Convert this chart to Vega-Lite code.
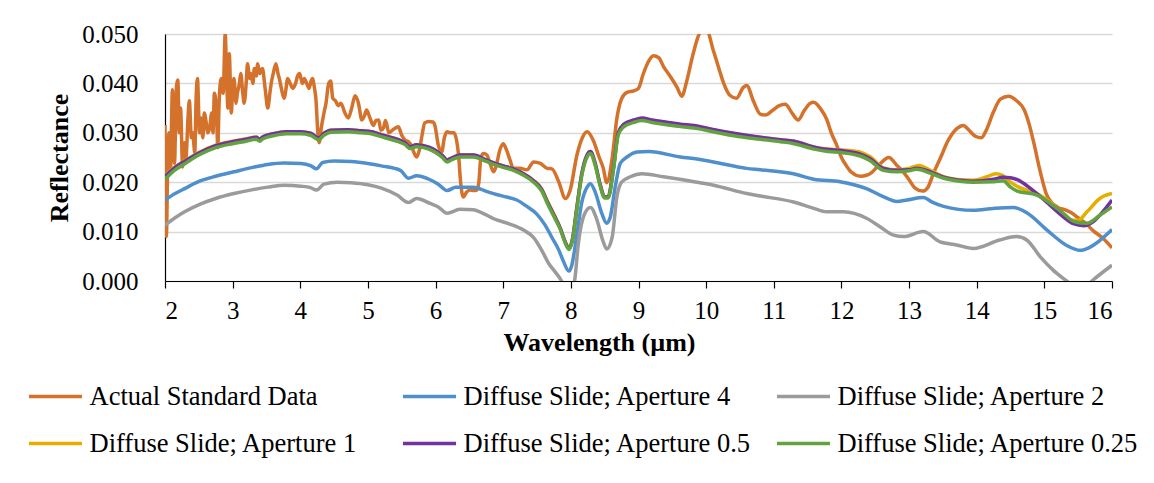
{
"$schema": "https://vega.github.io/schema/vega-lite/v6.json",
"width": 947, "height": 247,
"autosize": {"type": "none"},
"padding": {"left": 165, "top": 34, "right": 42, "bottom": 202},
"background": "white",
"config": {"font": "Liberation Serif", "view": {"stroke": null}},
"data": {"values": [
{"s":"Actual Standard Data","x":2.00,"y":0.0316},{"s":"Actual Standard Data","x":2.02,"y":0.0090},{"s":"Actual Standard Data","x":2.04,"y":0.0240},{"s":"Actual Standard Data","x":2.06,"y":0.0300},{"s":"Actual Standard Data","x":2.08,"y":0.0220},{"s":"Actual Standard Data","x":2.11,"y":0.0387},{"s":"Actual Standard Data","x":2.14,"y":0.0238},{"s":"Actual Standard Data","x":2.17,"y":0.0395},{"s":"Actual Standard Data","x":2.19,"y":0.0407},{"s":"Actual Standard Data","x":2.21,"y":0.0300},{"s":"Actual Standard Data","x":2.23,"y":0.0350},{"s":"Actual Standard Data","x":2.26,"y":0.0231},{"s":"Actual Standard Data","x":2.29,"y":0.0280},{"s":"Actual Standard Data","x":2.31,"y":0.0250},{"s":"Actual Standard Data","x":2.34,"y":0.0330},{"s":"Actual Standard Data","x":2.36,"y":0.0365},{"s":"Actual Standard Data","x":2.39,"y":0.0290},{"s":"Actual Standard Data","x":2.41,"y":0.0300},{"s":"Actual Standard Data","x":2.44,"y":0.0260},{"s":"Actual Standard Data","x":2.46,"y":0.0370},{"s":"Actual Standard Data","x":2.48,"y":0.0410},{"s":"Actual Standard Data","x":2.51,"y":0.0300},{"s":"Actual Standard Data","x":2.53,"y":0.0330},{"s":"Actual Standard Data","x":2.56,"y":0.0290},{"s":"Actual Standard Data","x":2.58,"y":0.0340},{"s":"Actual Standard Data","x":2.61,"y":0.0320},{"s":"Actual Standard Data","x":2.63,"y":0.0300},{"s":"Actual Standard Data","x":2.66,"y":0.0310},{"s":"Actual Standard Data","x":2.69,"y":0.0340},{"s":"Actual Standard Data","x":2.71,"y":0.0300},{"s":"Actual Standard Data","x":2.73,"y":0.0380},{"s":"Actual Standard Data","x":2.76,"y":0.0350},{"s":"Actual Standard Data","x":2.78,"y":0.0270},{"s":"Actual Standard Data","x":2.80,"y":0.0360},{"s":"Actual Standard Data","x":2.83,"y":0.0410},{"s":"Actual Standard Data","x":2.86,"y":0.0380},{"s":"Actual Standard Data","x":2.89,"y":0.0500},{"s":"Actual Standard Data","x":2.91,"y":0.0420},{"s":"Actual Standard Data","x":2.93,"y":0.0350},{"s":"Actual Standard Data","x":2.95,"y":0.0460},{"s":"Actual Standard Data","x":2.98,"y":0.0340},{"s":"Actual Standard Data","x":3.00,"y":0.0390},{"s":"Actual Standard Data","x":3.02,"y":0.0410},{"s":"Actual Standard Data","x":3.05,"y":0.0360},{"s":"Actual Standard Data","x":3.07,"y":0.0380},{"s":"Actual Standard Data","x":3.10,"y":0.0400},{"s":"Actual Standard Data","x":3.12,"y":0.0420},{"s":"Actual Standard Data","x":3.15,"y":0.0380},{"s":"Actual Standard Data","x":3.17,"y":0.0360},{"s":"Actual Standard Data","x":3.20,"y":0.0400},{"s":"Actual Standard Data","x":3.22,"y":0.0440},{"s":"Actual Standard Data","x":3.25,"y":0.0410},{"s":"Actual Standard Data","x":3.27,"y":0.0420},{"s":"Actual Standard Data","x":3.30,"y":0.0400},{"s":"Actual Standard Data","x":3.32,"y":0.0430},{"s":"Actual Standard Data","x":3.35,"y":0.0415},{"s":"Actual Standard Data","x":3.37,"y":0.0440},{"s":"Actual Standard Data","x":3.40,"y":0.0420},{"s":"Actual Standard Data","x":3.44,"y":0.0430},{"s":"Actual Standard Data","x":3.48,"y":0.0390},{"s":"Actual Standard Data","x":3.52,"y":0.0350},{"s":"Actual Standard Data","x":3.55,"y":0.0380},{"s":"Actual Standard Data","x":3.57,"y":0.0400},{"s":"Actual Standard Data","x":3.60,"y":0.0420},{"s":"Actual Standard Data","x":3.64,"y":0.0440},{"s":"Actual Standard Data","x":3.67,"y":0.0420},{"s":"Actual Standard Data","x":3.69,"y":0.0410},{"s":"Actual Standard Data","x":3.72,"y":0.0390},{"s":"Actual Standard Data","x":3.76,"y":0.0370},{"s":"Actual Standard Data","x":3.79,"y":0.0390},{"s":"Actual Standard Data","x":3.81,"y":0.0410},{"s":"Actual Standard Data","x":3.85,"y":0.0400},{"s":"Actual Standard Data","x":3.89,"y":0.0390},{"s":"Actual Standard Data","x":3.93,"y":0.0400},{"s":"Actual Standard Data","x":3.96,"y":0.0415},{"s":"Actual Standard Data","x":3.99,"y":0.0420},{"s":"Actual Standard Data","x":4.03,"y":0.0400},{"s":"Actual Standard Data","x":4.06,"y":0.0410},{"s":"Actual Standard Data","x":4.08,"y":0.0405},{"s":"Actual Standard Data","x":4.11,"y":0.0395},{"s":"Actual Standard Data","x":4.13,"y":0.0390},{"s":"Actual Standard Data","x":4.16,"y":0.0405},{"s":"Actual Standard Data","x":4.18,"y":0.0410},{"s":"Actual Standard Data","x":4.21,"y":0.0390},{"s":"Actual Standard Data","x":4.23,"y":0.0370},{"s":"Actual Standard Data","x":4.26,"y":0.0300},{"s":"Actual Standard Data","x":4.28,"y":0.0280},{"s":"Actual Standard Data","x":4.31,"y":0.0310},{"s":"Actual Standard Data","x":4.35,"y":0.0340},{"s":"Actual Standard Data","x":4.38,"y":0.0360},{"s":"Actual Standard Data","x":4.42,"y":0.0400},{"s":"Actual Standard Data","x":4.45,"y":0.0405},{"s":"Actual Standard Data","x":4.48,"y":0.0370},{"s":"Actual Standard Data","x":4.52,"y":0.0365},{"s":"Actual Standard Data","x":4.56,"y":0.0355},{"s":"Actual Standard Data","x":4.60,"y":0.0360},{"s":"Actual Standard Data","x":4.66,"y":0.0340},{"s":"Actual Standard Data","x":4.71,"y":0.0330},{"s":"Actual Standard Data","x":4.76,"y":0.0350},{"s":"Actual Standard Data","x":4.81,"y":0.0375},{"s":"Actual Standard Data","x":4.86,"y":0.0360},{"s":"Actual Standard Data","x":4.91,"y":0.0326},{"s":"Actual Standard Data","x":4.95,"y":0.0335},{"s":"Actual Standard Data","x":4.98,"y":0.0346},{"s":"Actual Standard Data","x":5.03,"y":0.0330},{"s":"Actual Standard Data","x":5.08,"y":0.0315},{"s":"Actual Standard Data","x":5.12,"y":0.0325},{"s":"Actual Standard Data","x":5.16,"y":0.0326},{"s":"Actual Standard Data","x":5.19,"y":0.0305},{"s":"Actual Standard Data","x":5.23,"y":0.0310},{"s":"Actual Standard Data","x":5.26,"y":0.0325},{"s":"Actual Standard Data","x":5.31,"y":0.0300},{"s":"Actual Standard Data","x":5.36,"y":0.0305},{"s":"Actual Standard Data","x":5.41,"y":0.0310},{"s":"Actual Standard Data","x":5.45,"y":0.0312},{"s":"Actual Standard Data","x":5.50,"y":0.0295},{"s":"Actual Standard Data","x":5.55,"y":0.0285},{"s":"Actual Standard Data","x":5.60,"y":0.0282},{"s":"Actual Standard Data","x":5.64,"y":0.0275},{"s":"Actual Standard Data","x":5.68,"y":0.0260},{"s":"Actual Standard Data","x":5.72,"y":0.0251},{"s":"Actual Standard Data","x":5.76,"y":0.0265},{"s":"Actual Standard Data","x":5.80,"y":0.0295},{"s":"Actual Standard Data","x":5.84,"y":0.0320},{"s":"Actual Standard Data","x":5.90,"y":0.0323},{"s":"Actual Standard Data","x":5.96,"y":0.0322},{"s":"Actual Standard Data","x":5.99,"y":0.0315},{"s":"Actual Standard Data","x":6.04,"y":0.0275},{"s":"Actual Standard Data","x":6.09,"y":0.0261},{"s":"Actual Standard Data","x":6.13,"y":0.0290},{"s":"Actual Standard Data","x":6.17,"y":0.0302},{"s":"Actual Standard Data","x":6.22,"y":0.0300},{"s":"Actual Standard Data","x":6.27,"y":0.0300},{"s":"Actual Standard Data","x":6.31,"y":0.0285},{"s":"Actual Standard Data","x":6.34,"y":0.0255},{"s":"Actual Standard Data","x":6.37,"y":0.0200},{"s":"Actual Standard Data","x":6.41,"y":0.0170},{"s":"Actual Standard Data","x":6.46,"y":0.0180},{"s":"Actual Standard Data","x":6.51,"y":0.0184},{"s":"Actual Standard Data","x":6.56,"y":0.0183},{"s":"Actual Standard Data","x":6.61,"y":0.0184},{"s":"Actual Standard Data","x":6.64,"y":0.0200},{"s":"Actual Standard Data","x":6.67,"y":0.0250},{"s":"Actual Standard Data","x":6.71,"y":0.0258},{"s":"Actual Standard Data","x":6.76,"y":0.0255},{"s":"Actual Standard Data","x":6.80,"y":0.0240},{"s":"Actual Standard Data","x":6.86,"y":0.0221},{"s":"Actual Standard Data","x":6.90,"y":0.0235},{"s":"Actual Standard Data","x":6.95,"y":0.0265},{"s":"Actual Standard Data","x":7.00,"y":0.0278},{"s":"Actual Standard Data","x":7.05,"y":0.0265},{"s":"Actual Standard Data","x":7.10,"y":0.0245},{"s":"Actual Standard Data","x":7.15,"y":0.0228},{"s":"Actual Standard Data","x":7.25,"y":0.0228},{"s":"Actual Standard Data","x":7.35,"y":0.0225},{"s":"Actual Standard Data","x":7.45,"y":0.0241},{"s":"Actual Standard Data","x":7.55,"y":0.0238},{"s":"Actual Standard Data","x":7.65,"y":0.0228},{"s":"Actual Standard Data","x":7.72,"y":0.0227},{"s":"Actual Standard Data","x":7.82,"y":0.0201},{"s":"Actual Standard Data","x":7.92,"y":0.0167},{"s":"Actual Standard Data","x":7.99,"y":0.0184},{"s":"Actual Standard Data","x":8.09,"y":0.0255},{"s":"Actual Standard Data","x":8.17,"y":0.0290},{"s":"Actual Standard Data","x":8.24,"y":0.0302},{"s":"Actual Standard Data","x":8.33,"y":0.0285},{"s":"Actual Standard Data","x":8.42,"y":0.0250},{"s":"Actual Standard Data","x":8.48,"y":0.0228},{"s":"Actual Standard Data","x":8.53,"y":0.0199},{"s":"Actual Standard Data","x":8.61,"y":0.0248},{"s":"Actual Standard Data","x":8.68,"y":0.0329},{"s":"Actual Standard Data","x":8.75,"y":0.0369},{"s":"Actual Standard Data","x":8.83,"y":0.0382},{"s":"Actual Standard Data","x":8.93,"y":0.0385},{"s":"Actual Standard Data","x":9.00,"y":0.0390},{"s":"Actual Standard Data","x":9.07,"y":0.0419},{"s":"Actual Standard Data","x":9.15,"y":0.0445},{"s":"Actual Standard Data","x":9.22,"y":0.0456},{"s":"Actual Standard Data","x":9.30,"y":0.0452},{"s":"Actual Standard Data","x":9.37,"y":0.0434},{"s":"Actual Standard Data","x":9.47,"y":0.0414},{"s":"Actual Standard Data","x":9.57,"y":0.0392},{"s":"Actual Standard Data","x":9.64,"y":0.0374},{"s":"Actual Standard Data","x":9.71,"y":0.0403},{"s":"Actual Standard Data","x":9.81,"y":0.0461},{"s":"Actual Standard Data","x":9.91,"y":0.0503},{"s":"Actual Standard Data","x":10.00,"y":0.0510},{"s":"Actual Standard Data","x":10.11,"y":0.0465},{"s":"Actual Standard Data","x":10.20,"y":0.0425},{"s":"Actual Standard Data","x":10.26,"y":0.0400},{"s":"Actual Standard Data","x":10.35,"y":0.0376},{"s":"Actual Standard Data","x":10.45,"y":0.0370},{"s":"Actual Standard Data","x":10.55,"y":0.0392},{"s":"Actual Standard Data","x":10.60,"y":0.0396},{"s":"Actual Standard Data","x":10.70,"y":0.0364},{"s":"Actual Standard Data","x":10.80,"y":0.0338},{"s":"Actual Standard Data","x":10.88,"y":0.0336},{"s":"Actual Standard Data","x":10.97,"y":0.0344},{"s":"Actual Standard Data","x":11.08,"y":0.0355},{"s":"Actual Standard Data","x":11.17,"y":0.0358},{"s":"Actual Standard Data","x":11.27,"y":0.0340},{"s":"Actual Standard Data","x":11.36,"y":0.0326},{"s":"Actual Standard Data","x":11.45,"y":0.0345},{"s":"Actual Standard Data","x":11.54,"y":0.0360},{"s":"Actual Standard Data","x":11.59,"y":0.0362},{"s":"Actual Standard Data","x":11.69,"y":0.0349},{"s":"Actual Standard Data","x":11.78,"y":0.0328},{"s":"Actual Standard Data","x":11.85,"y":0.0300},{"s":"Actual Standard Data","x":11.93,"y":0.0275},{"s":"Actual Standard Data","x":12.00,"y":0.0250},{"s":"Actual Standard Data","x":12.08,"y":0.0232},{"s":"Actual Standard Data","x":12.15,"y":0.0220},{"s":"Actual Standard Data","x":12.28,"y":0.0212},{"s":"Actual Standard Data","x":12.37,"y":0.0214},{"s":"Actual Standard Data","x":12.45,"y":0.0220},{"s":"Actual Standard Data","x":12.55,"y":0.0234},{"s":"Actual Standard Data","x":12.70,"y":0.0250},{"s":"Actual Standard Data","x":12.82,"y":0.0234},{"s":"Actual Standard Data","x":12.92,"y":0.0220},{"s":"Actual Standard Data","x":13.00,"y":0.0205},{"s":"Actual Standard Data","x":13.09,"y":0.0188},{"s":"Actual Standard Data","x":13.20,"y":0.0182},{"s":"Actual Standard Data","x":13.28,"y":0.0190},{"s":"Actual Standard Data","x":13.36,"y":0.0218},{"s":"Actual Standard Data","x":13.46,"y":0.0248},{"s":"Actual Standard Data","x":13.58,"y":0.0285},{"s":"Actual Standard Data","x":13.71,"y":0.0309},{"s":"Actual Standard Data","x":13.80,"y":0.0315},{"s":"Actual Standard Data","x":13.90,"y":0.0303},{"s":"Actual Standard Data","x":13.98,"y":0.0293},{"s":"Actual Standard Data","x":14.07,"y":0.0290},{"s":"Actual Standard Data","x":14.14,"y":0.0305},{"s":"Actual Standard Data","x":14.25,"y":0.0343},{"s":"Actual Standard Data","x":14.35,"y":0.0368},{"s":"Actual Standard Data","x":14.47,"y":0.0374},{"s":"Actual Standard Data","x":14.59,"y":0.0365},{"s":"Actual Standard Data","x":14.70,"y":0.0347},{"s":"Actual Standard Data","x":14.78,"y":0.0315},{"s":"Actual Standard Data","x":14.84,"y":0.0282},{"s":"Actual Standard Data","x":14.94,"y":0.0221},{"s":"Actual Standard Data","x":15.03,"y":0.0176},{"s":"Actual Standard Data","x":15.10,"y":0.0160},{"s":"Actual Standard Data","x":15.20,"y":0.0149},{"s":"Actual Standard Data","x":15.31,"y":0.0144},{"s":"Actual Standard Data","x":15.40,"y":0.0138},{"s":"Actual Standard Data","x":15.50,"y":0.0128},{"s":"Actual Standard Data","x":15.60,"y":0.0118},{"s":"Actual Standard Data","x":15.72,"y":0.0102},{"s":"Actual Standard Data","x":15.87,"y":0.0086},{"s":"Actual Standard Data","x":16.00,"y":0.0067},
{"s":"Diffuse Slide; Aperture 4","x":2.00,"y":0.0164},{"s":"Diffuse Slide; Aperture 4","x":2.15,"y":0.0177},{"s":"Diffuse Slide; Aperture 4","x":2.29,"y":0.0187},{"s":"Diffuse Slide; Aperture 4","x":2.53,"y":0.0203},{"s":"Diffuse Slide; Aperture 4","x":2.75,"y":0.0212},{"s":"Diffuse Slide; Aperture 4","x":3.02,"y":0.0221},{"s":"Diffuse Slide; Aperture 4","x":3.30,"y":0.0230},{"s":"Diffuse Slide; Aperture 4","x":3.52,"y":0.0236},{"s":"Diffuse Slide; Aperture 4","x":3.76,"y":0.0239},{"s":"Diffuse Slide; Aperture 4","x":4.01,"y":0.0238},{"s":"Diffuse Slide; Aperture 4","x":4.16,"y":0.0233},{"s":"Diffuse Slide; Aperture 4","x":4.24,"y":0.0227},{"s":"Diffuse Slide; Aperture 4","x":4.33,"y":0.0240},{"s":"Diffuse Slide; Aperture 4","x":4.50,"y":0.0243},{"s":"Diffuse Slide; Aperture 4","x":4.75,"y":0.0242},{"s":"Diffuse Slide; Aperture 4","x":5.00,"y":0.0238},{"s":"Diffuse Slide; Aperture 4","x":5.20,"y":0.0233},{"s":"Diffuse Slide; Aperture 4","x":5.48,"y":0.0224},{"s":"Diffuse Slide; Aperture 4","x":5.60,"y":0.0208},{"s":"Diffuse Slide; Aperture 4","x":5.72,"y":0.0213},{"s":"Diffuse Slide; Aperture 4","x":5.92,"y":0.0205},{"s":"Diffuse Slide; Aperture 4","x":6.04,"y":0.0196},{"s":"Diffuse Slide; Aperture 4","x":6.17,"y":0.0183},{"s":"Diffuse Slide; Aperture 4","x":6.30,"y":0.0190},{"s":"Diffuse Slide; Aperture 4","x":6.56,"y":0.0190},{"s":"Diffuse Slide; Aperture 4","x":6.76,"y":0.0181},{"s":"Diffuse Slide; Aperture 4","x":6.90,"y":0.0175},{"s":"Diffuse Slide; Aperture 4","x":7.05,"y":0.0170},{"s":"Diffuse Slide; Aperture 4","x":7.20,"y":0.0164},{"s":"Diffuse Slide; Aperture 4","x":7.35,"y":0.0151},{"s":"Diffuse Slide; Aperture 4","x":7.50,"y":0.0135},{"s":"Diffuse Slide; Aperture 4","x":7.62,"y":0.0113},{"s":"Diffuse Slide; Aperture 4","x":7.72,"y":0.0088},{"s":"Diffuse Slide; Aperture 4","x":7.82,"y":0.0063},{"s":"Diffuse Slide; Aperture 4","x":7.89,"y":0.0040},{"s":"Diffuse Slide; Aperture 4","x":7.97,"y":0.0020},{"s":"Diffuse Slide; Aperture 4","x":8.01,"y":0.0030},{"s":"Diffuse Slide; Aperture 4","x":8.09,"y":0.0095},{"s":"Diffuse Slide; Aperture 4","x":8.16,"y":0.0158},{"s":"Diffuse Slide; Aperture 4","x":8.24,"y":0.0190},{"s":"Diffuse Slide; Aperture 4","x":8.29,"y":0.0197},{"s":"Diffuse Slide; Aperture 4","x":8.36,"y":0.0180},{"s":"Diffuse Slide; Aperture 4","x":8.46,"y":0.0136},{"s":"Diffuse Slide; Aperture 4","x":8.53,"y":0.0117},{"s":"Diffuse Slide; Aperture 4","x":8.58,"y":0.0128},{"s":"Diffuse Slide; Aperture 4","x":8.66,"y":0.0194},{"s":"Diffuse Slide; Aperture 4","x":8.73,"y":0.0238},{"s":"Diffuse Slide; Aperture 4","x":8.83,"y":0.0251},{"s":"Diffuse Slide; Aperture 4","x":8.98,"y":0.0261},{"s":"Diffuse Slide; Aperture 4","x":9.15,"y":0.0262},{"s":"Diffuse Slide; Aperture 4","x":9.62,"y":0.0251},{"s":"Diffuse Slide; Aperture 4","x":9.91,"y":0.0246},{"s":"Diffuse Slide; Aperture 4","x":10.11,"y":0.0241},{"s":"Diffuse Slide; Aperture 4","x":10.60,"y":0.0228},{"s":"Diffuse Slide; Aperture 4","x":10.80,"y":0.0225},{"s":"Diffuse Slide; Aperture 4","x":11.29,"y":0.0217},{"s":"Diffuse Slide; Aperture 4","x":11.59,"y":0.0206},{"s":"Diffuse Slide; Aperture 4","x":11.98,"y":0.0201},{"s":"Diffuse Slide; Aperture 4","x":12.37,"y":0.0187},{"s":"Diffuse Slide; Aperture 4","x":12.60,"y":0.0172},{"s":"Diffuse Slide; Aperture 4","x":12.82,"y":0.0161},{"s":"Diffuse Slide; Aperture 4","x":12.97,"y":0.0164},{"s":"Diffuse Slide; Aperture 4","x":13.21,"y":0.0169},{"s":"Diffuse Slide; Aperture 4","x":13.35,"y":0.0159},{"s":"Diffuse Slide; Aperture 4","x":13.51,"y":0.0151},{"s":"Diffuse Slide; Aperture 4","x":13.95,"y":0.0143},{"s":"Diffuse Slide; Aperture 4","x":14.25,"y":0.0147},{"s":"Diffuse Slide; Aperture 4","x":14.54,"y":0.0149},{"s":"Diffuse Slide; Aperture 4","x":14.74,"y":0.0138},{"s":"Diffuse Slide; Aperture 4","x":15.04,"y":0.0103},{"s":"Diffuse Slide; Aperture 4","x":15.33,"y":0.0072},{"s":"Diffuse Slide; Aperture 4","x":15.53,"y":0.0062},{"s":"Diffuse Slide; Aperture 4","x":15.67,"y":0.0068},{"s":"Diffuse Slide; Aperture 4","x":16.00,"y":0.0104},
{"s":"Diffuse Slide; Aperture 2","x":2.00,"y":0.0113},{"s":"Diffuse Slide; Aperture 2","x":2.15,"y":0.0128},{"s":"Diffuse Slide; Aperture 2","x":2.29,"y":0.0140},{"s":"Diffuse Slide; Aperture 2","x":2.53,"y":0.0156},{"s":"Diffuse Slide; Aperture 2","x":2.75,"y":0.0167},{"s":"Diffuse Slide; Aperture 2","x":3.02,"y":0.0177},{"s":"Diffuse Slide; Aperture 2","x":3.30,"y":0.0185},{"s":"Diffuse Slide; Aperture 2","x":3.52,"y":0.0190},{"s":"Diffuse Slide; Aperture 2","x":3.76,"y":0.0194},{"s":"Diffuse Slide; Aperture 2","x":4.01,"y":0.0192},{"s":"Diffuse Slide; Aperture 2","x":4.15,"y":0.0189},{"s":"Diffuse Slide; Aperture 2","x":4.24,"y":0.0184},{"s":"Diffuse Slide; Aperture 2","x":4.35,"y":0.0196},{"s":"Diffuse Slide; Aperture 2","x":4.55,"y":0.0200},{"s":"Diffuse Slide; Aperture 2","x":4.75,"y":0.0199},{"s":"Diffuse Slide; Aperture 2","x":5.00,"y":0.0195},{"s":"Diffuse Slide; Aperture 2","x":5.20,"y":0.0188},{"s":"Diffuse Slide; Aperture 2","x":5.43,"y":0.0174},{"s":"Diffuse Slide; Aperture 2","x":5.60,"y":0.0159},{"s":"Diffuse Slide; Aperture 2","x":5.72,"y":0.0167},{"s":"Diffuse Slide; Aperture 2","x":5.92,"y":0.0157},{"s":"Diffuse Slide; Aperture 2","x":6.04,"y":0.0150},{"s":"Diffuse Slide; Aperture 2","x":6.17,"y":0.0137},{"s":"Diffuse Slide; Aperture 2","x":6.36,"y":0.0145},{"s":"Diffuse Slide; Aperture 2","x":6.56,"y":0.0144},{"s":"Diffuse Slide; Aperture 2","x":6.70,"y":0.0137},{"s":"Diffuse Slide; Aperture 2","x":6.86,"y":0.0126},{"s":"Diffuse Slide; Aperture 2","x":7.10,"y":0.0115},{"s":"Diffuse Slide; Aperture 2","x":7.30,"y":0.0103},{"s":"Diffuse Slide; Aperture 2","x":7.45,"y":0.0088},{"s":"Diffuse Slide; Aperture 2","x":7.57,"y":0.0062},{"s":"Diffuse Slide; Aperture 2","x":7.67,"y":0.0036},{"s":"Diffuse Slide; Aperture 2","x":7.77,"y":0.0018},{"s":"Diffuse Slide; Aperture 2","x":7.87,"y":-0.0002},{"s":"Diffuse Slide; Aperture 2","x":7.95,"y":-0.0030},{"s":"Diffuse Slide; Aperture 2","x":8.02,"y":-0.0020},{"s":"Diffuse Slide; Aperture 2","x":8.06,"y":0.0005},{"s":"Diffuse Slide; Aperture 2","x":8.11,"y":0.0075},{"s":"Diffuse Slide; Aperture 2","x":8.21,"y":0.0138},{"s":"Diffuse Slide; Aperture 2","x":8.29,"y":0.0149},{"s":"Diffuse Slide; Aperture 2","x":8.38,"y":0.0126},{"s":"Diffuse Slide; Aperture 2","x":8.48,"y":0.0079},{"s":"Diffuse Slide; Aperture 2","x":8.53,"y":0.0065},{"s":"Diffuse Slide; Aperture 2","x":8.61,"y":0.0088},{"s":"Diffuse Slide; Aperture 2","x":8.68,"y":0.0170},{"s":"Diffuse Slide; Aperture 2","x":8.75,"y":0.0200},{"s":"Diffuse Slide; Aperture 2","x":8.88,"y":0.0211},{"s":"Diffuse Slide; Aperture 2","x":9.05,"y":0.0217},{"s":"Diffuse Slide; Aperture 2","x":9.37,"y":0.0211},{"s":"Diffuse Slide; Aperture 2","x":9.91,"y":0.0199},{"s":"Diffuse Slide; Aperture 2","x":10.11,"y":0.0194},{"s":"Diffuse Slide; Aperture 2","x":10.60,"y":0.0177},{"s":"Diffuse Slide; Aperture 2","x":10.80,"y":0.0172},{"s":"Diffuse Slide; Aperture 2","x":11.29,"y":0.0160},{"s":"Diffuse Slide; Aperture 2","x":11.59,"y":0.0147},{"s":"Diffuse Slide; Aperture 2","x":11.78,"y":0.0140},{"s":"Diffuse Slide; Aperture 2","x":12.03,"y":0.0140},{"s":"Diffuse Slide; Aperture 2","x":12.37,"y":0.0127},{"s":"Diffuse Slide; Aperture 2","x":12.57,"y":0.0110},{"s":"Diffuse Slide; Aperture 2","x":12.77,"y":0.0093},{"s":"Diffuse Slide; Aperture 2","x":12.92,"y":0.0090},{"s":"Diffuse Slide; Aperture 2","x":13.21,"y":0.0100},{"s":"Diffuse Slide; Aperture 2","x":13.46,"y":0.0079},{"s":"Diffuse Slide; Aperture 2","x":13.70,"y":0.0073},{"s":"Diffuse Slide; Aperture 2","x":13.95,"y":0.0066},{"s":"Diffuse Slide; Aperture 2","x":14.34,"y":0.0083},{"s":"Diffuse Slide; Aperture 2","x":14.59,"y":0.0090},{"s":"Diffuse Slide; Aperture 2","x":14.74,"y":0.0083},{"s":"Diffuse Slide; Aperture 2","x":14.94,"y":0.0049},{"s":"Diffuse Slide; Aperture 2","x":15.13,"y":0.0022},{"s":"Diffuse Slide; Aperture 2","x":15.33,"y":0.0000},{"s":"Diffuse Slide; Aperture 2","x":15.50,"y":-0.0018},{"s":"Diffuse Slide; Aperture 2","x":15.62,"y":-0.0010},{"s":"Diffuse Slide; Aperture 2","x":15.72,"y":0.0002},{"s":"Diffuse Slide; Aperture 2","x":16.00,"y":0.0032},
{"s":"Diffuse Slide; Aperture 1","x":2.00,"y":0.0214},{"s":"Diffuse Slide; Aperture 1","x":2.15,"y":0.0231},{"s":"Diffuse Slide; Aperture 1","x":2.30,"y":0.0244},{"s":"Diffuse Slide; Aperture 1","x":2.50,"y":0.0260},{"s":"Diffuse Slide; Aperture 1","x":2.75,"y":0.0275},{"s":"Diffuse Slide; Aperture 1","x":3.00,"y":0.0283},{"s":"Diffuse Slide; Aperture 1","x":3.20,"y":0.0288},{"s":"Diffuse Slide; Aperture 1","x":3.35,"y":0.0291},{"s":"Diffuse Slide; Aperture 1","x":3.40,"y":0.0287},{"s":"Diffuse Slide; Aperture 1","x":3.45,"y":0.0292},{"s":"Diffuse Slide; Aperture 1","x":3.60,"y":0.0298},{"s":"Diffuse Slide; Aperture 1","x":3.80,"y":0.0302},{"s":"Diffuse Slide; Aperture 1","x":4.00,"y":0.0302},{"s":"Diffuse Slide; Aperture 1","x":4.15,"y":0.0299},{"s":"Diffuse Slide; Aperture 1","x":4.27,"y":0.0290},{"s":"Diffuse Slide; Aperture 1","x":4.35,"y":0.0299},{"s":"Diffuse Slide; Aperture 1","x":4.45,"y":0.0305},{"s":"Diffuse Slide; Aperture 1","x":4.70,"y":0.0306},{"s":"Diffuse Slide; Aperture 1","x":4.90,"y":0.0304},{"s":"Diffuse Slide; Aperture 1","x":5.05,"y":0.0302},{"s":"Diffuse Slide; Aperture 1","x":5.25,"y":0.0294},{"s":"Diffuse Slide; Aperture 1","x":5.45,"y":0.0286},{"s":"Diffuse Slide; Aperture 1","x":5.55,"y":0.0280},{"s":"Diffuse Slide; Aperture 1","x":5.62,"y":0.0272},{"s":"Diffuse Slide; Aperture 1","x":5.72,"y":0.0276},{"s":"Diffuse Slide; Aperture 1","x":5.90,"y":0.0271},{"s":"Diffuse Slide; Aperture 1","x":6.00,"y":0.0264},{"s":"Diffuse Slide; Aperture 1","x":6.10,"y":0.0254},{"s":"Diffuse Slide; Aperture 1","x":6.17,"y":0.0245},{"s":"Diffuse Slide; Aperture 1","x":6.25,"y":0.0250},{"s":"Diffuse Slide; Aperture 1","x":6.36,"y":0.0255},{"s":"Diffuse Slide; Aperture 1","x":6.56,"y":0.0255},{"s":"Diffuse Slide; Aperture 1","x":6.75,"y":0.0245},{"s":"Diffuse Slide; Aperture 1","x":6.86,"y":0.0239},{"s":"Diffuse Slide; Aperture 1","x":7.00,"y":0.0233},{"s":"Diffuse Slide; Aperture 1","x":7.15,"y":0.0227},{"s":"Diffuse Slide; Aperture 1","x":7.30,"y":0.0217},{"s":"Diffuse Slide; Aperture 1","x":7.45,"y":0.0203},{"s":"Diffuse Slide; Aperture 1","x":7.57,"y":0.0186},{"s":"Diffuse Slide; Aperture 1","x":7.65,"y":0.0163},{"s":"Diffuse Slide; Aperture 1","x":7.74,"y":0.0138},{"s":"Diffuse Slide; Aperture 1","x":7.84,"y":0.0108},{"s":"Diffuse Slide; Aperture 1","x":7.92,"y":0.0078},{"s":"Diffuse Slide; Aperture 1","x":7.97,"y":0.0066},{"s":"Diffuse Slide; Aperture 1","x":8.02,"y":0.0082},{"s":"Diffuse Slide; Aperture 1","x":8.09,"y":0.0150},{"s":"Diffuse Slide; Aperture 1","x":8.16,"y":0.0216},{"s":"Diffuse Slide; Aperture 1","x":8.24,"y":0.0255},{"s":"Diffuse Slide; Aperture 1","x":8.29,"y":0.0262},{"s":"Diffuse Slide; Aperture 1","x":8.36,"y":0.0238},{"s":"Diffuse Slide; Aperture 1","x":8.43,"y":0.0197},{"s":"Diffuse Slide; Aperture 1","x":8.50,"y":0.0170},{"s":"Diffuse Slide; Aperture 1","x":8.55,"y":0.0170},{"s":"Diffuse Slide; Aperture 1","x":8.63,"y":0.0229},{"s":"Diffuse Slide; Aperture 1","x":8.70,"y":0.0300},{"s":"Diffuse Slide; Aperture 1","x":8.78,"y":0.0316},{"s":"Diffuse Slide; Aperture 1","x":8.93,"y":0.0325},{"s":"Diffuse Slide; Aperture 1","x":9.05,"y":0.0329},{"s":"Diffuse Slide; Aperture 1","x":9.20,"y":0.0325},{"s":"Diffuse Slide; Aperture 1","x":9.60,"y":0.0317},{"s":"Diffuse Slide; Aperture 1","x":9.90,"y":0.0312},{"s":"Diffuse Slide; Aperture 1","x":10.10,"y":0.0306},{"s":"Diffuse Slide; Aperture 1","x":10.50,"y":0.0296},{"s":"Diffuse Slide; Aperture 1","x":10.80,"y":0.0291},{"s":"Diffuse Slide; Aperture 1","x":11.10,"y":0.0286},{"s":"Diffuse Slide; Aperture 1","x":11.30,"y":0.0283},{"s":"Diffuse Slide; Aperture 1","x":11.60,"y":0.0271},{"s":"Diffuse Slide; Aperture 1","x":11.80,"y":0.0267},{"s":"Diffuse Slide; Aperture 1","x":12.00,"y":0.0265},{"s":"Diffuse Slide; Aperture 1","x":12.18,"y":0.0263},{"s":"Diffuse Slide; Aperture 1","x":12.30,"y":0.0260},{"s":"Diffuse Slide; Aperture 1","x":12.42,"y":0.0252},{"s":"Diffuse Slide; Aperture 1","x":12.62,"y":0.0229},{"s":"Diffuse Slide; Aperture 1","x":12.82,"y":0.0225},{"s":"Diffuse Slide; Aperture 1","x":13.00,"y":0.0228},{"s":"Diffuse Slide; Aperture 1","x":13.15,"y":0.0234},{"s":"Diffuse Slide; Aperture 1","x":13.30,"y":0.0225},{"s":"Diffuse Slide; Aperture 1","x":13.51,"y":0.0211},{"s":"Diffuse Slide; Aperture 1","x":13.75,"y":0.0205},{"s":"Diffuse Slide; Aperture 1","x":13.95,"y":0.0204},{"s":"Diffuse Slide; Aperture 1","x":14.15,"y":0.0211},{"s":"Diffuse Slide; Aperture 1","x":14.28,"y":0.0217},{"s":"Diffuse Slide; Aperture 1","x":14.38,"y":0.0214},{"s":"Diffuse Slide; Aperture 1","x":14.50,"y":0.0200},{"s":"Diffuse Slide; Aperture 1","x":14.62,"y":0.0190},{"s":"Diffuse Slide; Aperture 1","x":14.89,"y":0.0177},{"s":"Diffuse Slide; Aperture 1","x":15.10,"y":0.0158},{"s":"Diffuse Slide; Aperture 1","x":15.38,"y":0.0123},{"s":"Diffuse Slide; Aperture 1","x":15.50,"y":0.0123},{"s":"Diffuse Slide; Aperture 1","x":15.63,"y":0.0140},{"s":"Diffuse Slide; Aperture 1","x":15.82,"y":0.0167},{"s":"Diffuse Slide; Aperture 1","x":16.00,"y":0.0177},
{"s":"Diffuse Slide; Aperture 0.5","x":2.00,"y":0.0212},{"s":"Diffuse Slide; Aperture 0.5","x":2.15,"y":0.0230},{"s":"Diffuse Slide; Aperture 0.5","x":2.30,"y":0.0243},{"s":"Diffuse Slide; Aperture 0.5","x":2.50,"y":0.0259},{"s":"Diffuse Slide; Aperture 0.5","x":2.75,"y":0.0274},{"s":"Diffuse Slide; Aperture 0.5","x":3.00,"y":0.0282},{"s":"Diffuse Slide; Aperture 0.5","x":3.20,"y":0.0287},{"s":"Diffuse Slide; Aperture 0.5","x":3.35,"y":0.0291},{"s":"Diffuse Slide; Aperture 0.5","x":3.40,"y":0.0287},{"s":"Diffuse Slide; Aperture 0.5","x":3.45,"y":0.0292},{"s":"Diffuse Slide; Aperture 0.5","x":3.60,"y":0.0298},{"s":"Diffuse Slide; Aperture 0.5","x":3.80,"y":0.0302},{"s":"Diffuse Slide; Aperture 0.5","x":4.00,"y":0.0302},{"s":"Diffuse Slide; Aperture 0.5","x":4.15,"y":0.0299},{"s":"Diffuse Slide; Aperture 0.5","x":4.27,"y":0.0290},{"s":"Diffuse Slide; Aperture 0.5","x":4.35,"y":0.0299},{"s":"Diffuse Slide; Aperture 0.5","x":4.45,"y":0.0305},{"s":"Diffuse Slide; Aperture 0.5","x":4.70,"y":0.0306},{"s":"Diffuse Slide; Aperture 0.5","x":4.90,"y":0.0304},{"s":"Diffuse Slide; Aperture 0.5","x":5.05,"y":0.0302},{"s":"Diffuse Slide; Aperture 0.5","x":5.25,"y":0.0294},{"s":"Diffuse Slide; Aperture 0.5","x":5.45,"y":0.0286},{"s":"Diffuse Slide; Aperture 0.5","x":5.55,"y":0.0280},{"s":"Diffuse Slide; Aperture 0.5","x":5.62,"y":0.0272},{"s":"Diffuse Slide; Aperture 0.5","x":5.72,"y":0.0276},{"s":"Diffuse Slide; Aperture 0.5","x":5.90,"y":0.0271},{"s":"Diffuse Slide; Aperture 0.5","x":6.00,"y":0.0264},{"s":"Diffuse Slide; Aperture 0.5","x":6.10,"y":0.0254},{"s":"Diffuse Slide; Aperture 0.5","x":6.17,"y":0.0245},{"s":"Diffuse Slide; Aperture 0.5","x":6.25,"y":0.0250},{"s":"Diffuse Slide; Aperture 0.5","x":6.36,"y":0.0255},{"s":"Diffuse Slide; Aperture 0.5","x":6.56,"y":0.0255},{"s":"Diffuse Slide; Aperture 0.5","x":6.75,"y":0.0245},{"s":"Diffuse Slide; Aperture 0.5","x":6.86,"y":0.0239},{"s":"Diffuse Slide; Aperture 0.5","x":7.00,"y":0.0233},{"s":"Diffuse Slide; Aperture 0.5","x":7.15,"y":0.0227},{"s":"Diffuse Slide; Aperture 0.5","x":7.30,"y":0.0217},{"s":"Diffuse Slide; Aperture 0.5","x":7.45,"y":0.0203},{"s":"Diffuse Slide; Aperture 0.5","x":7.57,"y":0.0185},{"s":"Diffuse Slide; Aperture 0.5","x":7.65,"y":0.0161},{"s":"Diffuse Slide; Aperture 0.5","x":7.74,"y":0.0136},{"s":"Diffuse Slide; Aperture 0.5","x":7.84,"y":0.0108},{"s":"Diffuse Slide; Aperture 0.5","x":7.92,"y":0.0078},{"s":"Diffuse Slide; Aperture 0.5","x":7.97,"y":0.0066},{"s":"Diffuse Slide; Aperture 0.5","x":8.02,"y":0.0082},{"s":"Diffuse Slide; Aperture 0.5","x":8.09,"y":0.0150},{"s":"Diffuse Slide; Aperture 0.5","x":8.16,"y":0.0216},{"s":"Diffuse Slide; Aperture 0.5","x":8.24,"y":0.0255},{"s":"Diffuse Slide; Aperture 0.5","x":8.29,"y":0.0262},{"s":"Diffuse Slide; Aperture 0.5","x":8.36,"y":0.0238},{"s":"Diffuse Slide; Aperture 0.5","x":8.43,"y":0.0197},{"s":"Diffuse Slide; Aperture 0.5","x":8.50,"y":0.0170},{"s":"Diffuse Slide; Aperture 0.5","x":8.55,"y":0.0170},{"s":"Diffuse Slide; Aperture 0.5","x":8.63,"y":0.0229},{"s":"Diffuse Slide; Aperture 0.5","x":8.70,"y":0.0300},{"s":"Diffuse Slide; Aperture 0.5","x":8.78,"y":0.0317},{"s":"Diffuse Slide; Aperture 0.5","x":8.93,"y":0.0326},{"s":"Diffuse Slide; Aperture 0.5","x":9.05,"y":0.0330},{"s":"Diffuse Slide; Aperture 0.5","x":9.20,"y":0.0326},{"s":"Diffuse Slide; Aperture 0.5","x":9.60,"y":0.0318},{"s":"Diffuse Slide; Aperture 0.5","x":9.90,"y":0.0313},{"s":"Diffuse Slide; Aperture 0.5","x":10.10,"y":0.0307},{"s":"Diffuse Slide; Aperture 0.5","x":10.50,"y":0.0297},{"s":"Diffuse Slide; Aperture 0.5","x":10.80,"y":0.0291},{"s":"Diffuse Slide; Aperture 0.5","x":11.10,"y":0.0286},{"s":"Diffuse Slide; Aperture 0.5","x":11.30,"y":0.0283},{"s":"Diffuse Slide; Aperture 0.5","x":11.60,"y":0.0271},{"s":"Diffuse Slide; Aperture 0.5","x":11.80,"y":0.0266},{"s":"Diffuse Slide; Aperture 0.5","x":12.00,"y":0.0264},{"s":"Diffuse Slide; Aperture 0.5","x":12.28,"y":0.0257},{"s":"Diffuse Slide; Aperture 0.5","x":12.42,"y":0.0248},{"s":"Diffuse Slide; Aperture 0.5","x":12.62,"y":0.0228},{"s":"Diffuse Slide; Aperture 0.5","x":12.82,"y":0.0224},{"s":"Diffuse Slide; Aperture 0.5","x":13.00,"y":0.0225},{"s":"Diffuse Slide; Aperture 0.5","x":13.11,"y":0.0228},{"s":"Diffuse Slide; Aperture 0.5","x":13.30,"y":0.0222},{"s":"Diffuse Slide; Aperture 0.5","x":13.51,"y":0.0210},{"s":"Diffuse Slide; Aperture 0.5","x":13.75,"y":0.0204},{"s":"Diffuse Slide; Aperture 0.5","x":13.95,"y":0.0202},{"s":"Diffuse Slide; Aperture 0.5","x":14.25,"y":0.0206},{"s":"Diffuse Slide; Aperture 0.5","x":14.39,"y":0.0210},{"s":"Diffuse Slide; Aperture 0.5","x":14.50,"y":0.0209},{"s":"Diffuse Slide; Aperture 0.5","x":14.60,"y":0.0205},{"s":"Diffuse Slide; Aperture 0.5","x":14.79,"y":0.0188},{"s":"Diffuse Slide; Aperture 0.5","x":15.03,"y":0.0160},{"s":"Diffuse Slide; Aperture 0.5","x":15.28,"y":0.0130},{"s":"Diffuse Slide; Aperture 0.5","x":15.43,"y":0.0116},{"s":"Diffuse Slide; Aperture 0.5","x":15.58,"y":0.0112},{"s":"Diffuse Slide; Aperture 0.5","x":15.72,"y":0.0120},{"s":"Diffuse Slide; Aperture 0.5","x":15.85,"y":0.0138},{"s":"Diffuse Slide; Aperture 0.5","x":16.00,"y":0.0164},
{"s":"Diffuse Slide; Aperture 0.25","x":2.00,"y":0.0206},{"s":"Diffuse Slide; Aperture 0.25","x":2.15,"y":0.0225},{"s":"Diffuse Slide; Aperture 0.25","x":2.30,"y":0.0238},{"s":"Diffuse Slide; Aperture 0.25","x":2.50,"y":0.0255},{"s":"Diffuse Slide; Aperture 0.25","x":2.75,"y":0.0270},{"s":"Diffuse Slide; Aperture 0.25","x":3.00,"y":0.0278},{"s":"Diffuse Slide; Aperture 0.25","x":3.20,"y":0.0283},{"s":"Diffuse Slide; Aperture 0.25","x":3.35,"y":0.0287},{"s":"Diffuse Slide; Aperture 0.25","x":3.40,"y":0.0283},{"s":"Diffuse Slide; Aperture 0.25","x":3.45,"y":0.0288},{"s":"Diffuse Slide; Aperture 0.25","x":3.60,"y":0.0294},{"s":"Diffuse Slide; Aperture 0.25","x":3.80,"y":0.0298},{"s":"Diffuse Slide; Aperture 0.25","x":4.00,"y":0.0298},{"s":"Diffuse Slide; Aperture 0.25","x":4.15,"y":0.0295},{"s":"Diffuse Slide; Aperture 0.25","x":4.27,"y":0.0286},{"s":"Diffuse Slide; Aperture 0.25","x":4.35,"y":0.0295},{"s":"Diffuse Slide; Aperture 0.25","x":4.45,"y":0.0301},{"s":"Diffuse Slide; Aperture 0.25","x":4.70,"y":0.0302},{"s":"Diffuse Slide; Aperture 0.25","x":4.90,"y":0.0300},{"s":"Diffuse Slide; Aperture 0.25","x":5.05,"y":0.0298},{"s":"Diffuse Slide; Aperture 0.25","x":5.25,"y":0.0290},{"s":"Diffuse Slide; Aperture 0.25","x":5.45,"y":0.0282},{"s":"Diffuse Slide; Aperture 0.25","x":5.55,"y":0.0276},{"s":"Diffuse Slide; Aperture 0.25","x":5.62,"y":0.0268},{"s":"Diffuse Slide; Aperture 0.25","x":5.72,"y":0.0272},{"s":"Diffuse Slide; Aperture 0.25","x":5.90,"y":0.0267},{"s":"Diffuse Slide; Aperture 0.25","x":6.00,"y":0.0260},{"s":"Diffuse Slide; Aperture 0.25","x":6.10,"y":0.0250},{"s":"Diffuse Slide; Aperture 0.25","x":6.17,"y":0.0241},{"s":"Diffuse Slide; Aperture 0.25","x":6.25,"y":0.0246},{"s":"Diffuse Slide; Aperture 0.25","x":6.36,"y":0.0251},{"s":"Diffuse Slide; Aperture 0.25","x":6.56,"y":0.0251},{"s":"Diffuse Slide; Aperture 0.25","x":6.75,"y":0.0242},{"s":"Diffuse Slide; Aperture 0.25","x":6.86,"y":0.0236},{"s":"Diffuse Slide; Aperture 0.25","x":7.00,"y":0.0230},{"s":"Diffuse Slide; Aperture 0.25","x":7.15,"y":0.0224},{"s":"Diffuse Slide; Aperture 0.25","x":7.30,"y":0.0214},{"s":"Diffuse Slide; Aperture 0.25","x":7.45,"y":0.0200},{"s":"Diffuse Slide; Aperture 0.25","x":7.57,"y":0.0182},{"s":"Diffuse Slide; Aperture 0.25","x":7.65,"y":0.0158},{"s":"Diffuse Slide; Aperture 0.25","x":7.74,"y":0.0133},{"s":"Diffuse Slide; Aperture 0.25","x":7.84,"y":0.0106},{"s":"Diffuse Slide; Aperture 0.25","x":7.92,"y":0.0076},{"s":"Diffuse Slide; Aperture 0.25","x":7.97,"y":0.0064},{"s":"Diffuse Slide; Aperture 0.25","x":8.02,"y":0.0080},{"s":"Diffuse Slide; Aperture 0.25","x":8.09,"y":0.0147},{"s":"Diffuse Slide; Aperture 0.25","x":8.16,"y":0.0212},{"s":"Diffuse Slide; Aperture 0.25","x":8.24,"y":0.0251},{"s":"Diffuse Slide; Aperture 0.25","x":8.29,"y":0.0258},{"s":"Diffuse Slide; Aperture 0.25","x":8.36,"y":0.0234},{"s":"Diffuse Slide; Aperture 0.25","x":8.43,"y":0.0194},{"s":"Diffuse Slide; Aperture 0.25","x":8.50,"y":0.0168},{"s":"Diffuse Slide; Aperture 0.25","x":8.55,"y":0.0168},{"s":"Diffuse Slide; Aperture 0.25","x":8.63,"y":0.0225},{"s":"Diffuse Slide; Aperture 0.25","x":8.70,"y":0.0295},{"s":"Diffuse Slide; Aperture 0.25","x":8.78,"y":0.0312},{"s":"Diffuse Slide; Aperture 0.25","x":8.93,"y":0.0321},{"s":"Diffuse Slide; Aperture 0.25","x":9.05,"y":0.0325},{"s":"Diffuse Slide; Aperture 0.25","x":9.20,"y":0.0321},{"s":"Diffuse Slide; Aperture 0.25","x":9.60,"y":0.0313},{"s":"Diffuse Slide; Aperture 0.25","x":9.90,"y":0.0308},{"s":"Diffuse Slide; Aperture 0.25","x":10.10,"y":0.0302},{"s":"Diffuse Slide; Aperture 0.25","x":10.50,"y":0.0292},{"s":"Diffuse Slide; Aperture 0.25","x":10.80,"y":0.0287},{"s":"Diffuse Slide; Aperture 0.25","x":11.10,"y":0.0282},{"s":"Diffuse Slide; Aperture 0.25","x":11.30,"y":0.0278},{"s":"Diffuse Slide; Aperture 0.25","x":11.60,"y":0.0267},{"s":"Diffuse Slide; Aperture 0.25","x":11.80,"y":0.0262},{"s":"Diffuse Slide; Aperture 0.25","x":12.00,"y":0.0260},{"s":"Diffuse Slide; Aperture 0.25","x":12.28,"y":0.0253},{"s":"Diffuse Slide; Aperture 0.25","x":12.42,"y":0.0244},{"s":"Diffuse Slide; Aperture 0.25","x":12.62,"y":0.0224},{"s":"Diffuse Slide; Aperture 0.25","x":12.82,"y":0.0221},{"s":"Diffuse Slide; Aperture 0.25","x":13.00,"y":0.0223},{"s":"Diffuse Slide; Aperture 0.25","x":13.11,"y":0.0226},{"s":"Diffuse Slide; Aperture 0.25","x":13.30,"y":0.0219},{"s":"Diffuse Slide; Aperture 0.25","x":13.51,"y":0.0208},{"s":"Diffuse Slide; Aperture 0.25","x":13.75,"y":0.0202},{"s":"Diffuse Slide; Aperture 0.25","x":13.95,"y":0.0200},{"s":"Diffuse Slide; Aperture 0.25","x":14.25,"y":0.0201},{"s":"Diffuse Slide; Aperture 0.25","x":14.39,"y":0.0203},{"s":"Diffuse Slide; Aperture 0.25","x":14.50,"y":0.0190},{"s":"Diffuse Slide; Aperture 0.25","x":14.60,"y":0.0182},{"s":"Diffuse Slide; Aperture 0.25","x":14.89,"y":0.0174},{"s":"Diffuse Slide; Aperture 0.25","x":15.09,"y":0.0157},{"s":"Diffuse Slide; Aperture 0.25","x":15.28,"y":0.0137},{"s":"Diffuse Slide; Aperture 0.25","x":15.45,"y":0.0120},{"s":"Diffuse Slide; Aperture 0.25","x":15.63,"y":0.0117},{"s":"Diffuse Slide; Aperture 0.25","x":15.82,"y":0.0133},{"s":"Diffuse Slide; Aperture 0.25","x":16.00,"y":0.0150}
]},
"mark": {"type": "line", "strokeWidth": 3.5, "interpolate": "monotone", "clip": true},
"encoding": {
  "x": {"field": "x", "type": "quantitative",
    "scale": {"domain": [2, 16], "nice": false, "zero": false},
    "axis": {"values": [2,3,4,5,6,7,8,9,10,11,12,13,14,15,16], "title": "Wavelength (µm)", "grid": false,
      "domainColor": "#000000", "domainWidth": 1.2, "tickColor": "#000000", "tickWidth": 1.2, "tickSize": 7,
      "labelFont": "Liberation Serif", "labelFontSize": 25, "labelColor": "#000000", "labelPadding": 10,
      "titleFont": "Liberation Serif", "titleFontSize": 26, "titleFontWeight": "bold", "titleColor": "#000000",
      "titlePadding": 6, "titleX": 434}},
  "y": {"field": "y", "type": "quantitative",
    "scale": {"domain": [0, 0.05], "nice": false},
    "axis": {"values": [0, 0.01, 0.02, 0.03, 0.04, 0.05], "format": ".3f", "title": "Reflectance",
      "grid": true, "gridColor": "#D9D9D9", "gridWidth": 1.5, "ticks": false, "tickSize": 0,
      "domainColor": "#000000", "domainWidth": 1.2,
      "labelFont": "Liberation Serif", "labelFontSize": 25, "labelColor": "#000000", "labelPadding": 27,
      "titleFont": "Liberation Serif", "titleFontSize": 26, "titleFontWeight": "bold", "titleColor": "#000000",
      "titlePadding": 9}},
  "color": {"field": "s", "type": "nominal",
    "scale": {"domain": ["Actual Standard Data", "Diffuse Slide; Aperture 4", "Diffuse Slide; Aperture 2", "Diffuse Slide; Aperture 1", "Diffuse Slide; Aperture 0.5", "Diffuse Slide; Aperture 0.25"],
      "range": ["#D4712B", "#4F8FCB", "#9B9B9B", "#E5AE00", "#7232A0", "#63A33F"]},
    "legend": {"title": null, "orient": "none", "legendX": -138, "legendY": 334, "columns": 3, "direction": "horizontal",
      "symbolType": "stroke", "symbolSize": 2809, "symbolStrokeWidth": 3.5, "labelOffset": 5.5,
      "labelFont": "Liberation Serif", "labelFontSize": 26.5, "labelColor": "#000000", "labelLimit": 0,
      "rowPadding": 5, "columnPadding": 5, "padding": 0, "gridAlign": "all"}}
}
}
